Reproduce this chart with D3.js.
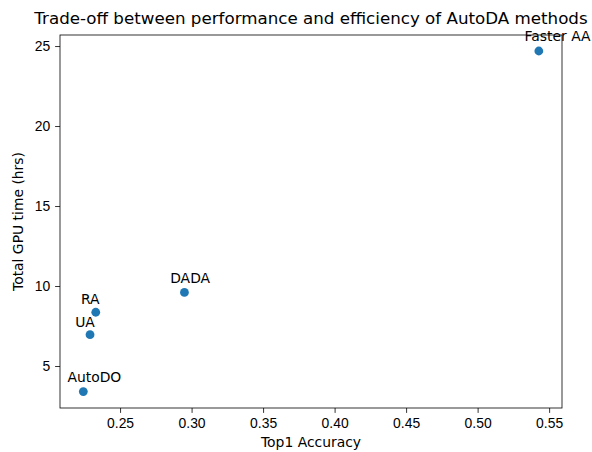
<!DOCTYPE html>
<html>
<head>
<meta charset="utf-8">
<script src="https://cdn.jsdelivr.net/npm/d3@7"></script>
<style>
  body { margin: 0; background: #fff; }
  svg { font-family: "DejaVu Sans", sans-serif; }
  .axis text { font-size: 13.9px; fill: #000; }
  .axis path, .axis line { stroke: #000; stroke-width: 0.8; }
</style>
</head>
<body>
<svg width="592" height="452"></svg>
<script>
// data
var methods = ["AutoDO", "UA", "RA", "DADA", "Faster AA"];
var accuracy = [0.2243, 0.229, 0.233, 0.295, 0.5428];
var gpuHours = [3.4, 6.96, 8.36, 9.6, 24.69];
// where each annotation sits (data units, text baseline)
var labelAcc = [0.2320, 0.2255, 0.2292, 0.2990, 0.5559];
var labelHrs = [3.98, 7.46, 8.875, 10.17, 25.31];
var xTicks = [0.25, 0.30, 0.35, 0.40, 0.45, 0.50, 0.55];
var yTicks = [5, 10, 15, 20, 25];

var svg = d3.select("svg"),
    margin = { top: 35, right: 30, bottom: 44, left: 60 },
    width = +svg.attr("width") - margin.left - margin.right,
    height = +svg.attr("height") - margin.top - margin.bottom;

var g = svg.append("g")
    .attr("transform", "translate(" + margin.left + "," + margin.top + ")");

var x = d3.scaleLinear().domain([0.208, 0.559]).range([0, width]);
var y = d3.scaleLinear().domain([2.375, 25.69]).range([height, 0]);

var xAxis = d3.axisBottom(x).tickValues(xTicks).tickFormat(d3.format(".2f")).tickSizeOuter(0).tickSize(4.9).tickPadding(4.9);
var yAxis = d3.axisLeft(y).tickValues(yTicks).tickFormat(d3.format("d")).tickSizeOuter(0).tickSize(4.9).tickPadding(4.9);

g.append("g")
    .attr("class", "x axis")
    .attr("transform", "translate(0," + height + ")")
    .call(xAxis)
    .select(".domain").remove();

g.append("g")
    .attr("class", "y axis")
    .call(yAxis)
    .select(".domain").remove();

// frame
g.append("rect")
    .attr("width", width)
    .attr("height", height)
    .attr("fill", "none")
    .attr("stroke", "#000")
    .attr("stroke-width", 0.8);

var pts = methods.map(function (m, i) {
    return { name: m, acc: accuracy[i], hrs: gpuHours[i], lx: labelAcc[i], ly: labelHrs[i] };
});

g.selectAll(".dot")
    .data(pts)
    .enter().append("circle")
    .attr("class", "dot")
    .attr("r", 4.4)
    .attr("cx", function (d) { return x(d.acc); })
    .attr("cy", function (d) { return y(d.hrs); })
    .style("fill", "#1f77b4");

g.selectAll(".lbl")
    .data(pts)
    .enter().append("text")
    .attr("class", "lbl")
    .attr("x", function (d) { return x(d.lx); })
    .attr("y", function (d) { return y(d.ly); })
    .attr("text-anchor", "middle")
    .style("font-size", "13.9px")
    .text(function (d) { return d.name; });

// title
svg.append("text")
    .attr("x", margin.left + width / 2)
    .attr("y", 24)
    .attr("text-anchor", "middle")
    .style("font-size", "16.7px")
    .text("Trade-off between performance and efficiency of AutoDA methods");

// X label
svg.append("text")
    .attr("x", margin.left + width / 2)
    .attr("y", 447)
    .attr("text-anchor", "middle")
    .style("font-size", "13.9px")
    .text("Top1 Accuracy");

// Y label
svg.append("text")
    .attr("transform", "rotate(-90)")
    .attr("x", -(margin.top + height / 2))
    .attr("y", 23)
    .attr("text-anchor", "middle")
    .style("font-size", "13.9px")
    .text("Total GPU time (hrs)");
</script>
</body>
</html>
